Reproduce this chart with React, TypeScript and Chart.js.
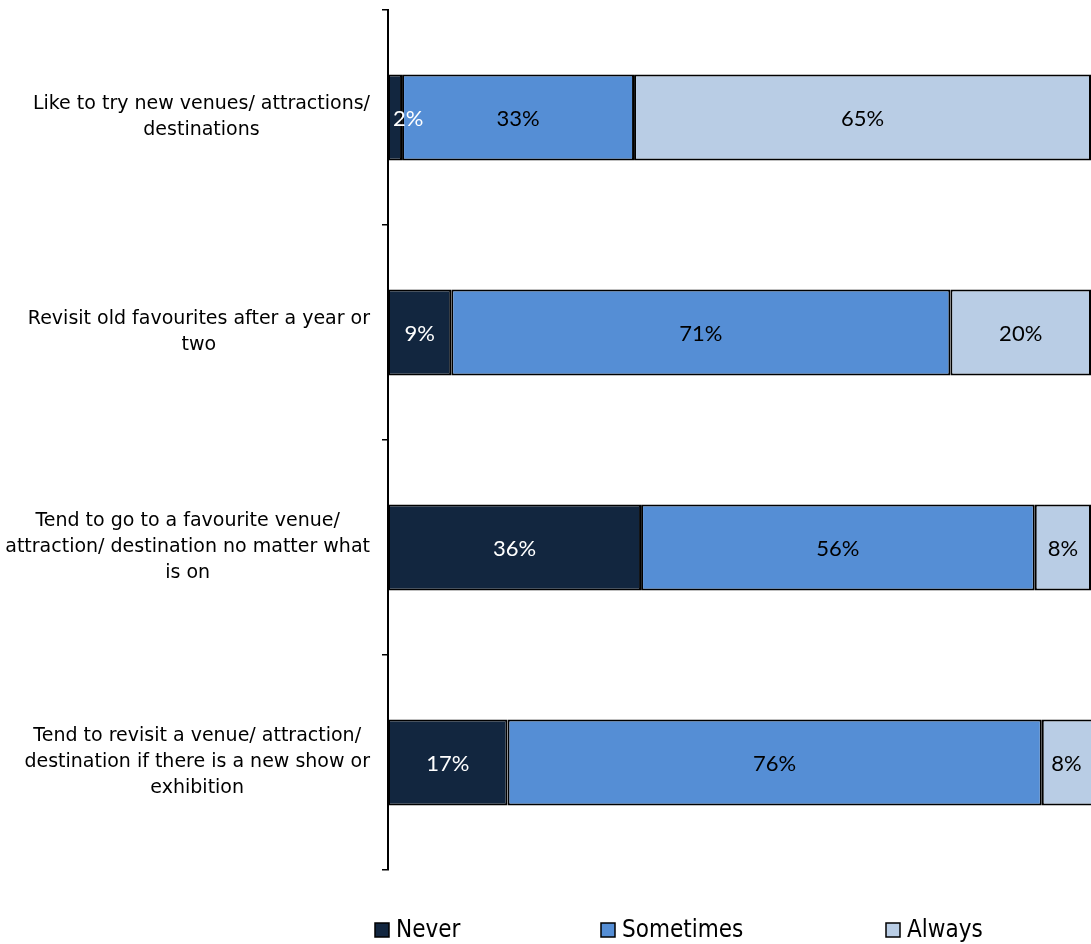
import React, { useEffect, useRef } from "react";
import { Chart, registerables } from "chart.js";

Chart.register(...registerables);

const categories: string[][] = [
  ["Like to try new venues/ attractions/", "destinations"],
  ["Revisit old favourites after a year or", "two"],
  ["Tend to go to a favourite venue/", "attraction/ destination no matter what", "is on"],
  ["Tend to revisit a venue/ attraction/", "destination if there is a new show or", "exhibition"],
];

const seriesNames = ["Never", "Sometimes", "Always"];
const neverValues = [2, 9, 36, 17];
const sometimesValues = [33, 71, 56, 76];
const alwaysValues = [65, 20, 8, 8];

const seriesColors = ["#12263F", "#558ED5", "#B9CDE5"];
const labelColors = ["#FFFFFF", "#000000", "#000000"];

const W = 1091;
const H = 944;
const AXIS_X = 388;
const CAT_FONT = '19px "DejaVu Sans"';
const VAL_FONT = '22px Lato';
const LEG_FONT = '24px "DejaVu Sans Condensed"';
const legendX = [375, 601, 886];

const customDraw = {
  id: "customDraw",
  afterDatasetsDraw(chart: any) {
    const ctx = chart.ctx;
    const area = chart.chartArea;
    ctx.save();
    ctx.font = VAL_FONT;
    ctx.textBaseline = "middle";
    chart.data.datasets.forEach((ds: any, di: number) => {
      const meta = chart.getDatasetMeta(di);
      meta.data.forEach((el: any, i: number) => {
        const v = ds.data[i];
        const txt = v + "%";
        const start = Math.min(el.base, el.x);
        const end = Math.min(Math.max(el.base, el.x), area.right);
        const tw = ctx.measureText(txt).width;
        ctx.fillStyle = labelColors[di];
        if (tw > end - start - 4) {
          ctx.textAlign = "left";
          ctx.fillText(txt, start + 5, el.y + 1);
        } else {
          ctx.textAlign = "center";
          ctx.fillText(txt, (start + end) / 2, el.y + 1);
        }
      });
    });
    ctx.restore();
  },
  afterDraw(chart: any) {
    const ctx = chart.ctx;
    const yScale = chart.scales.y;
    ctx.save();
    ctx.font = CAT_FONT;
    ctx.fillStyle = "#000000";
    ctx.textBaseline = "middle";
    ctx.textAlign = "center";
    const lh = 26;
    categories.forEach((lines, i) => {
      const cy = yScale.getPixelForValue(i);
      const bw = Math.max(...lines.map((l) => ctx.measureText(l).width));
      const cx = 370 - bw / 2;
      const y0 = cy - ((lines.length - 1) * lh) / 2;
      lines.forEach((l, j) => ctx.fillText(l, cx, y0 + j * lh));
    });
    ctx.font = LEG_FONT;
    ctx.textAlign = "left";
    const ly = 930;
    seriesNames.forEach((name, i) => {
      const x = legendX[i];
      ctx.fillStyle = seriesColors[i];
      ctx.fillRect(x, ly - 7, 14, 14);
      ctx.strokeStyle = "#000000";
      ctx.lineWidth = 1.5;
      ctx.strokeRect(x, ly - 7, 14, 14);
      ctx.fillStyle = "#000000";
      ctx.fillText(name, x + 21, ly + 1);
    });
    ctx.restore();
  },
};

export default function App() {
  const ref = useRef<HTMLCanvasElement>(null);
  useEffect(() => {
    if (!ref.current) return;
    const values = [neverValues, sometimesValues, alwaysValues];
    const chart = new Chart(ref.current, {
      type: "bar",
      data: {
        labels: categories,
        datasets: seriesNames.map((name, i) => ({
          label: name,
          data: values[i],
          backgroundColor: seriesColors[i],
          borderColor: "#000000",
          borderWidth: 2,
          borderSkipped: false,
          barPercentage: 0.4,
          categoryPercentage: 1,
        })),
      },
      options: {
        indexAxis: "y",
        responsive: false,
        animation: false,
        layout: { padding: { top: 10, bottom: 74, left: 0, right: 0 } },
        plugins: { legend: { display: false }, tooltip: { enabled: false } },
        scales: {
          x: { stacked: true, min: 0, max: 100, display: false },
          y: {
            stacked: true,
            grid: {
              offset: true,
              drawOnChartArea: false,
              drawTicks: true,
              tickLength: 6,
              color: "#000000",
              lineWidth: 1.5,
            },
            border: { display: true, color: "#000000", width: 2 },
            ticks: { display: false },
            afterFit: (scale: any) => {
              scale.width = AXIS_X;
            },
          },
        },
      },
      plugins: [customDraw],
    });
    return () => chart.destroy();
  }, []);
  return (
    <div style={{ position: "absolute", left: 0, top: 0, width: W, height: H, background: "#fff" }}>
      <canvas ref={ref} width={W} height={H} style={{ display: "block" }} />
    </div>
  );
}
